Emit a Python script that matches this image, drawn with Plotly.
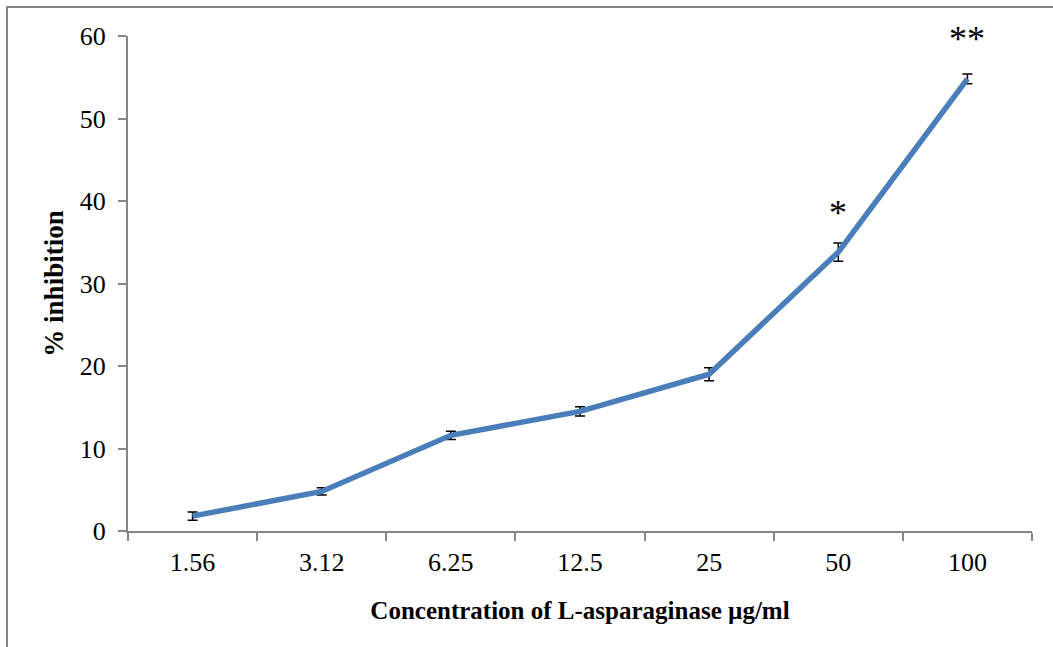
import plotly.graph_objects as go

categories = ["1.56", "3.12", "6.25", "12.5", "25", "50", "100"]
inhibition = [1.8, 4.8, 11.6, 14.5, 19.0, 33.8, 54.8]
errors = [0.5, 0.45, 0.5, 0.55, 0.8, 1.1, 0.6]
sig_labels = ["", "", "", "", "", "*", "**"]
sig_y = [None, None, None, None, None, 38.6, 59.6]

W, H = 1053, 647
L, R, T, B = 128, 21, 36, 116
pw, ph = W - L - R, H - T - B

fig = go.Figure()
fig.add_trace(go.Scatter(
    x=categories, y=inhibition, mode="lines",
    line=dict(color="#4A7EBB", width=5.5),
    error_y=dict(type="data", array=errors, visible=True,
                 color="black", thickness=1.5, width=5),
    showlegend=False, hoverinfo="skip",
))

for i, (s, yv) in enumerate(zip(sig_labels, sig_y)):
    if s:
        fig.add_annotation(x=i, y=yv, text=s, showarrow=False,
                           font=dict(family="Liberation Serif", size=36, color="black"),
                           xanchor="center", yanchor="middle")

# outer frame (left/top visible)
fx0 = (7 - L) / pw
fy1 = (H - B - 7) / ph
fig.add_shape(type="rect", xref="paper", yref="paper",
              x0=fx0, x1=1.2, y0=-0.5, y1=fy1,
              line=dict(color="#868686", width=2), fillcolor="rgba(0,0,0,0)",
              layer="below")

axis_font = dict(family="Liberation Serif", size=26, color="black")

fig.update_layout(
    width=W, height=H,
    margin=dict(l=L, r=R, t=T, b=B),
    paper_bgcolor="white", plot_bgcolor="white",
    xaxis=dict(
        type="category", tickson="boundaries",
        range=[-0.5, len(categories) - 0.5], autorange=False,
        showline=True, linecolor="#868686", linewidth=2,
        ticks="outside", ticklen=8, tickcolor="#868686", tickwidth=1.5,
        showgrid=False, zeroline=False, tickangle=0,
        tickfont=axis_font, ticklabelstandoff=7,
        title=dict(text="<b>Concentration of L-asparaginase µg/ml</b>",
                   font=dict(family="Liberation Serif", size=25, color="black"), standoff=25),
    ),
    yaxis=dict(
        range=[0, 60], dtick=10, autorange=False,
        showline=True, linecolor="#868686", linewidth=2,
        ticks="outside", ticklen=8, tickcolor="#868686", tickwidth=1.5,
        showgrid=False, zeroline=False,
        tickfont=axis_font, ticklabelstandoff=7,
        title=dict(text="<b>% inhibition</b>",
                   font=dict(family="Liberation Serif", size=27, color="black"), standoff=8),
    ),
)

fig.write_html("out.html")
